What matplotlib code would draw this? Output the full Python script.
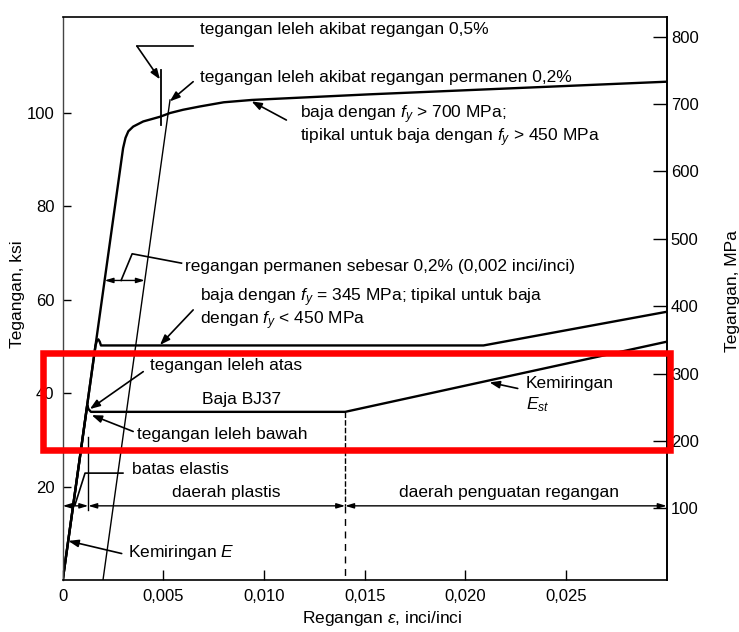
import matplotlib
matplotlib.use("Agg")
import matplotlib.pyplot as plt
from matplotlib.patches import Rectangle

plt.rcParams['font.family'] = ['Liberation Sans', 'DejaVu Sans']
plt.rcParams['mathtext.fontset'] = 'custom'
plt.rcParams['mathtext.rm'] = 'Liberation Sans'
plt.rcParams['mathtext.it'] = 'Liberation Sans:italic'

# ---------------- data (strain [in/in], stress [ksi]) ----------------
hs_strain = [0, 0.00300, 0.00312, 0.00326, 0.00350, 0.00400, 0.00483, 0.00533,
             0.00598, 0.00681, 0.00800, 0.00940, 0.01524, 0.0300]
hs_stress = [0, 92.4, 94.6, 96.0, 97.0, 98.1, 99.1, 99.9,
             100.6, 101.3, 102.2, 102.7, 103.9, 106.6]

mid_strain = [0, 0.00163, 0.00170, 0.00177, 0.00184, 0.00190, 0.0209, 0.0300]
mid_stress = [0, 50.2, 51.2, 51.5, 51.0, 50.2, 50.2, 57.4]

bj37_strain = [0, 0.00122, 0.00128, 0.00140, 0.01403, 0.0300]
bj37_stress = [0, 37.4, 36.6, 36.0, 36.0, 51.0]

offset_strain = [0.002, 0.00533]
offset_stress = [0, 102.7]

half_pct_strain = [0.00486, 0.00486]
half_pct_stress = [97.4, 109.1]

eps_y = 0.00127
eps_st = 0.01403

x_ticks = [0, 0.005, 0.010, 0.015, 0.020, 0.025]
x_ticklabels = ['0', '0,005', '0,010', '0,015', '0,020', '0,025']
y_ticks = [20, 40, 60, 80, 100]
mpa_ticks = [100, 200, 300, 400, 500, 600, 700, 800]

# ---------------- figure ----------------
W, H = 739, 632
fig = plt.figure(figsize=(W / 100, H / 100), dpi=100)
ax = fig.add_axes([62.7 / W, (H - 580.2) / H, 604 / W, 563.5 / H])
ax.set_xlim(0, 0.030)
ax.set_ylim(0, 120.5)

FS = 12.5
TFS = 12
lw_main = 1.7

ax.plot(hs_strain, hs_stress, color='black', lw=lw_main, solid_joinstyle='round')
ax.plot(mid_strain, mid_stress, color='black', lw=lw_main, solid_joinstyle='round')
ax.plot(bj37_strain, bj37_stress, color='black', lw=lw_main, solid_joinstyle='round')
ax.plot(offset_strain, offset_stress, color='black', lw=1.0)
ax.plot(half_pct_strain, half_pct_stress, color='black', lw=1.3)

# strain-hardening onset (dashed) and yield marker
ax.plot([eps_st, eps_st], [36.0, 15.9], color='black', lw=1.0, ls=(0, (4, 1.5)))
ax.plot([eps_st, eps_st], [15.9, 0], color='black', lw=1.0, ls=(0, (5, 4)))
ax.plot([eps_y, eps_y], [30.6, 15.0], color='black', lw=1.0)

arrow = dict(arrowstyle='-|>,head_length=0.6,head_width=0.22', color='black',
             lw=1.2, shrinkA=0, shrinkB=0)
dim = dict(arrowstyle='<|-|>,head_length=0.5,head_width=0.15', color='black',
           lw=1.0, shrinkA=0, shrinkB=0)

# dimension lines
ax.annotate('', xy=(0, 15.9), xytext=(eps_y, 15.9), arrowprops=dim)
ax.annotate('', xy=(eps_y, 15.9), xytext=(eps_st, 15.9), arrowprops=dim)
ax.annotate('', xy=(eps_st, 15.9), xytext=(0.0300, 15.9), arrowprops=dim)
ax.annotate('', xy=(0.00208, 64.1), xytext=(0.00408, 64.1), arrowprops=dim)

# leaders without arrows
ax.plot([0.00369, 0.00646], [114.2, 114.2], color='black', lw=1.2)
ax.plot([0.00290, 0.00345, 0.00590], [64.1, 69.8, 67.8], color='black', lw=1.2)
ax.plot([0.00299, 0.00111, 0.00061], [22.9, 22.9, 16.1], color='black', lw=1.2)

# leaders with arrows
ax.annotate('', xy=(0.00483, 107.1), xytext=(0.00369, 114.2), arrowprops=arrow)
ax.annotate('', xy=(0.00532, 102.4), xytext=(0.00648, 106.6), arrowprops=arrow)
ax.annotate('', xy=(0.00938, 102.4), xytext=(0.01111, 98.4), arrowprops=arrow)
ax.annotate('', xy=(0.00483, 50.3), xytext=(0.00648, 57.8), arrowprops=arrow)
ax.annotate('', xy=(0.00135, 36.6), xytext=(0.00400, 44.6), arrowprops=arrow)
ax.annotate('', xy=(0.00144, 35.3), xytext=(0.00350, 31.8), arrowprops=arrow)
ax.annotate('', xy=(0.00028, 8.4), xytext=(0.00293, 5.7), arrowprops=arrow)
ax.annotate('', xy=(0.0212, 42.3), xytext=(0.0226, 41.0), arrowprops=arrow)

# texts
def t(x, y, s, **kw):
    ax.text(x, y, s, fontsize=FS, va='center', ha=kw.pop('ha', 'left'), **kw)

t(0.00681, 117.7, 'tegangan leleh akibat regangan 0,5%')
t(0.00681, 107.4, 'tegangan leleh akibat regangan permanen 0,2%')
t(0.01177, 97.1, 'baja dengan $f_y$ > 700 MPa;\ntipikal untuk baja dengan $f_y$ > 450 MPa',
  linespacing=1.05)
t(0.00607, 67.1, 'regangan permanen sebesar 0,2% (0,002 inci/inci)')
t(0.00681, 57.9, 'baja dengan $f_y$ = 345 MPa; tipikal untuk baja\ndengan $f_y$ < 450 MPa',
  linespacing=1.05)
t(0.00433, 46.0, 'tegangan leleh atas')
t(0.00888, 38.7, 'Baja BJ37', ha='center')
t(0.00367, 31.2, 'tegangan leleh bawah')
t(0.00342, 23.6, 'batas elastis')
t(0.00813, 18.7, 'daerah plastis', ha='center')
t(0.02215, 18.7, 'daerah penguatan regangan', ha='center')
t(0.00322, 6.0, 'Kemiringan $E$')
t(0.02301, 42.1, 'Kemiringan')
t(0.02301, 37.6, '$E_{st}$')

# axes styling
ax.set_xticks(x_ticks)
ax.set_xticklabels(x_ticklabels)
ax.set_yticks(y_ticks)
ax.tick_params(axis='x', direction='in', length=7, width=1.0, pad=6, labelsize=TFS)
ax.tick_params(axis='y', direction='in', length=6, width=1.0, pad=6, labelsize=TFS)
for side in ['top', 'bottom', 'right']:
    ax.spines[side].set_linewidth(1.2)
ax.spines['left'].set_linewidth(1.0)
ax.spines['left'].set_color('#444444')

secax = ax.secondary_yaxis('right', functions=(lambda k: (k - 0.963) / 0.14411,
                                                lambda m: m * 0.14411 + 0.963))
secax.set_yticks(mpa_ticks)
secax.tick_params(direction='in', length=10, width=1.0, pad=3, labelsize=TFS)
secax.spines['right'].set_linewidth(1.2)

# axis titles
fig.text(18 / W, 1 - 294 / H, 'Tegangan, ksi', rotation=90, ha='center', va='center',
         fontsize=FS)
fig.text(733 / W, 1 - 291 / H, 'Tegangan, MPa', rotation=90, ha='center', va='center',
         fontsize=FS)
fig.text(382 / W, 1 - 619 / H, 'Regangan $\\varepsilon$, inci/inci', ha='center',
         va='center', fontsize=FS)

# red highlight box
fig.patches.append(Rectangle((43.3 / W, 1 - 450 / H), (670 - 43.3) / W, (450 - 352.5) / H,
                             transform=fig.transFigure, fill=False, edgecolor='#ff0000',
                             lw=4.7, zorder=10))

fig.savefig('out.png', dpi=100)
